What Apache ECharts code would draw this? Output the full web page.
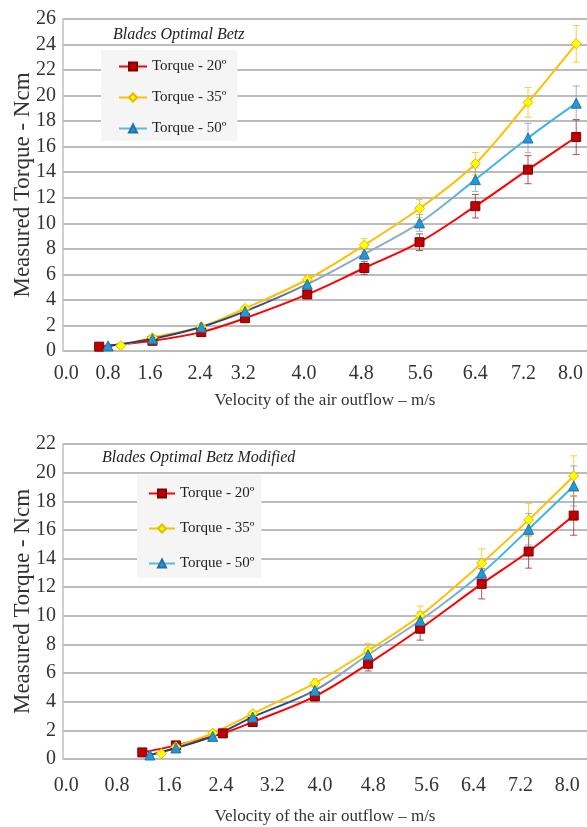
<!DOCTYPE html>
<html>
<head>
<meta charset="utf-8">
<script src="https://cdn.jsdelivr.net/npm/echarts@6/dist/echarts.min.js"></script>
<style>
  html, body { margin: 0; padding: 0; background: #fff; }
  #main { width: 587px; height: 827px; }
</style>
</head>
<body>
<div id="main"></div>
<script>
// x positions on a linear axis (0 at the y axis line)
const seriesNames = ['Torque - 20º', 'Torque - 35º', 'Torque - 50º']

// upper chart: Blades Optimal Betz
const velTop20 = [0.57, 1.41, 2.18, 2.87, 3.85, 4.75, 5.62, 6.50, 7.33, 8.09]
const torqueTop20 = [0.34, 0.80, 1.48, 2.57, 4.43, 6.50, 8.52, 11.34, 14.20, 16.76]
const errTop20 = [0.10, 0.12, 0.15, 0.20, 0.32, 0.50, 0.65, 0.92, 1.10, 1.37]
const velTop35 = [0.91, 1.41, 2.18, 2.87, 3.85, 4.75, 5.62, 6.50, 7.33, 8.09]
const torqueTop35 = [0.42, 1.05, 1.90, 3.33, 5.60, 8.30, 11.16, 14.67, 19.47, 24.06]
const errTop35 = [0.08, 0.12, 0.15, 0.20, 0.28, 0.50, 0.70, 0.88, 1.16, 1.43]
const velTop50 = [0.71, 1.41, 2.18, 2.87, 3.85, 4.75, 5.62, 6.50, 7.33, 8.09]
const torqueTop50 = [0.40, 0.95, 1.88, 3.10, 5.23, 7.60, 10.03, 13.42, 16.68, 19.41]
const errTop50 = [0.08, 0.10, 0.15, 0.20, 0.25, 0.45, 0.65, 0.92, 1.15, 1.35]
const tickPosTop = [0.05, 0.71, 1.37, 2.16, 2.84, 3.80, 4.70, 5.63, 6.50, 7.26, 8.00]

// lower chart: Blades Optimal Betz Modified
const velBot20 = [1.25, 1.78, 2.52, 2.99, 3.97, 4.81, 5.63, 6.60, 7.34, 8.05]
const torqueBot20 = [0.46, 0.95, 1.79, 2.58, 4.37, 6.65, 9.10, 12.23, 14.49, 17.00]
const errBot20 = [0.08, 0.10, 0.12, 0.15, 0.30, 0.50, 0.80, 1.05, 1.16, 1.37]
const velBot35 = [1.55, 1.78, 2.36, 2.99, 3.97, 4.81, 5.63, 6.60, 7.34, 8.05]
const torqueBot35 = [0.38, 0.85, 1.81, 3.16, 5.30, 7.56, 10.02, 13.68, 16.70, 19.77]
const errBot35 = [0.06, 0.10, 0.12, 0.15, 0.30, 0.50, 0.67, 1.00, 1.16, 1.40]
const velBot50 = [1.37, 1.78, 2.36, 2.99, 3.97, 4.81, 5.63, 6.60, 7.34, 8.05]
const torqueBot50 = [0.28, 0.77, 1.58, 2.93, 4.79, 7.28, 9.67, 12.98, 16.05, 19.07]
const errBot50 = [0.06, 0.10, 0.12, 0.15, 0.30, 0.45, 0.60, 0.85, 1.10, 1.40]
const tickPosBot = [0.05, 0.85, 1.67, 2.49, 3.30, 4.05, 4.89, 5.73, 6.47, 7.21, 7.95]

const tickLabels = ['0.0', '0.8', '1.6', '2.4', '3.2', '4.0', '4.8', '5.6', '6.4', '7.2', '8.0']

const serif = 'Liberation Serif'
const textColor = '#333'

const blueGradient = new echarts.graphic.LinearGradient(0, 0, 1, 0, [
    { offset: 0, color: '#1f3a70' },
    { offset: 0.32, color: '#2e4b82' },
    { offset: 0.45, color: '#8ea8c6' },
    { offset: 0.66, color: '#8fb0cc' },
    { offset: 0.78, color: '#45b4e4' },
    { offset: 1, color: '#3cb3e6' }
])

const looks = [
    { line: '#ff0000', fill: '#c00000', border: '#7f0000', symbol: 'rect', size: 9, bar: 'rgba(160,30,30,0.75)' },
    { line: '#ffc000', fill: '#ffff00', border: '#e6b800', symbol: 'diamond', size: 10, bar: 'rgba(255,192,0,0.8)' },
    { line: blueGradient, fill: '#1e9ad6', border: '#2a6fa0', symbol: 'triangle', size: 10, bar: 'rgba(120,145,175,0.7)' }
]

function makeLine(idx, vel, torque, axisIndex) {
    const look = looks[idx]
    return {
        name: seriesNames[idx],
        type: 'line',
        xAxisIndex: axisIndex,
        yAxisIndex: axisIndex,
        smooth: 0.35,
        symbol: look.symbol,
        symbolSize: look.size,
        z: 3,
        lineStyle: { color: look.line, width: 2 },
        itemStyle: { color: look.fill, borderColor: look.border, borderWidth: 1 },
        data: vel.map((v, i) => [v, torque[i]])
    }
}

function makeErr(idx, vel, torque, err, axisIndex) {
    const color = looks[idx].bar
    return {
        type: 'custom',
        xAxisIndex: axisIndex,
        yAxisIndex: axisIndex,
        z: 2,
        silent: true,
        encode: { x: 0, y: 1 },
        renderItem: function (params, api) {
            const x = api.value(0)
            const y = api.value(1)
            const e = api.value(2)
            const hi = api.coord([x, y + e])
            const lo = api.coord([x, y - e])
            const cap = 3.5
            const style = { stroke: color, lineWidth: 1 }
            return {
                type: 'group',
                children: [
                    { type: 'line', shape: { x1: hi[0], y1: hi[1], x2: lo[0], y2: lo[1] }, style: style },
                    { type: 'line', shape: { x1: hi[0] - cap, y1: hi[1], x2: hi[0] + cap, y2: hi[1] }, style: style },
                    { type: 'line', shape: { x1: lo[0] - cap, y1: lo[1], x2: lo[0] + cap, y2: lo[1] }, style: style }
                ]
            }
        },
        data: vel.map((v, i) => [v, torque[i], err[i]])
    }
}

function xAxisFor(gridIndex, tickPos, margin, nameGap) {
    return {
        type: 'value',
        gridIndex: gridIndex,
        min: 0,
        max: 8.26,
        name: 'Velocity of the air outflow – m/s',
        nameLocation: 'middle',
        nameGap: nameGap,
        nameMoveOverlap: false,
        nameTextStyle: { fontFamily: serif, fontSize: 17, color: textColor },
        axisLine: { show: false },
        axisTick: { show: false, customValues: tickPos },
        splitLine: { show: false },
        axisLabel: {
            customValues: tickPos,
            margin: margin,
            fontFamily: serif,
            fontSize: 20,
            color: textColor,
            formatter: function (value) {
                const i = tickPos.indexOf(value)
                return i >= 0 ? tickLabels[i] : ''
            }
        }
    }
}

function yAxisFor(gridIndex, max) {
    return {
        type: 'value',
        gridIndex: gridIndex,
        min: 0,
        max: max,
        interval: 2,
        name: 'Measured Torque - Ncm',
        nameLocation: 'middle',
        nameGap: 29,
        nameMoveOverlap: false,
        nameTextStyle: { fontFamily: serif, fontSize: 23, color: textColor },
        axisLine: { show: true, lineStyle: { color: '#bfbfbf', width: 1.5 } },
        axisTick: { show: false },
        axisLabel: { margin: 7, fontFamily: serif, fontSize: 20, color: textColor },
        splitLine: { lineStyle: { color: '#a6a6a6', width: 1.5 } }
    }
}

function legendFor(left, top, padding, itemWidth, itemGap) {
    return {
        left: left,
        top: top,
        orient: 'vertical',
        backgroundColor: '#f5f5f5',
        padding: padding,
        itemWidth: itemWidth,
        itemHeight: 10,
        itemGap: itemGap,
        textStyle: { fontFamily: serif, fontSize: 15, color: '#222', lineHeight: 14 },
        data: [
            { name: seriesNames[0] },
            { name: seriesNames[1] },
            { name: seriesNames[2], lineStyle: { color: '#5ab9e6' } }
        ]
    }
}

const chart = echarts.init(document.getElementById('main'))

const option = {
    animation: false,
    backgroundColor: '#fff',
    title: [
        {
            text: 'Blades Optimal Betz',
            left: 113, top: 27, padding: 0,
            textStyle: { fontFamily: serif, fontStyle: 'italic', fontWeight: 'normal', fontSize: 16, color: '#222' }
        },
        {
            text: 'Blades Optimal Betz Modified',
            left: 102, top: 450, padding: 0,
            textStyle: { fontFamily: serif, fontStyle: 'italic', fontWeight: 'normal', fontSize: 16, color: '#222' }
        }
    ],
    legend: [
        legendFor(101, 50, [9, 11, 5, 17], 28, 16),
        legendFor(137, 475, [11, 7, 7, 11], 26, 20)
    ],
    grid: [
        { left: 63, right: 0, top: 19, bottom: 476, outerBoundsMode: 'none' },
        { left: 63, right: 0, top: 444, bottom: 68, outerBoundsMode: 'none' }
    ],
    xAxis: [
        xAxisFor(0, tickPosTop, 13, 41),
        xAxisFor(1, tickPosBot, 17, 49)
    ],
    yAxis: [
        yAxisFor(0, 26),
        yAxisFor(1, 22)
    ],
    series: [
        makeErr(0, velTop20, torqueTop20, errTop20, 0),
        makeErr(1, velTop35, torqueTop35, errTop35, 0),
        makeErr(2, velTop50, torqueTop50, errTop50, 0),
        makeLine(0, velTop20, torqueTop20, 0),
        makeLine(1, velTop35, torqueTop35, 0),
        makeLine(2, velTop50, torqueTop50, 0),
        makeErr(0, velBot20, torqueBot20, errBot20, 1),
        makeErr(1, velBot35, torqueBot35, errBot35, 1),
        makeErr(2, velBot50, torqueBot50, errBot50, 1),
        makeLine(0, velBot20, torqueBot20, 1),
        makeLine(1, velBot35, torqueBot35, 1),
        makeLine(2, velBot50, torqueBot50, 1)
    ]
}

chart.setOption(option)
</script>
</body>
</html>
